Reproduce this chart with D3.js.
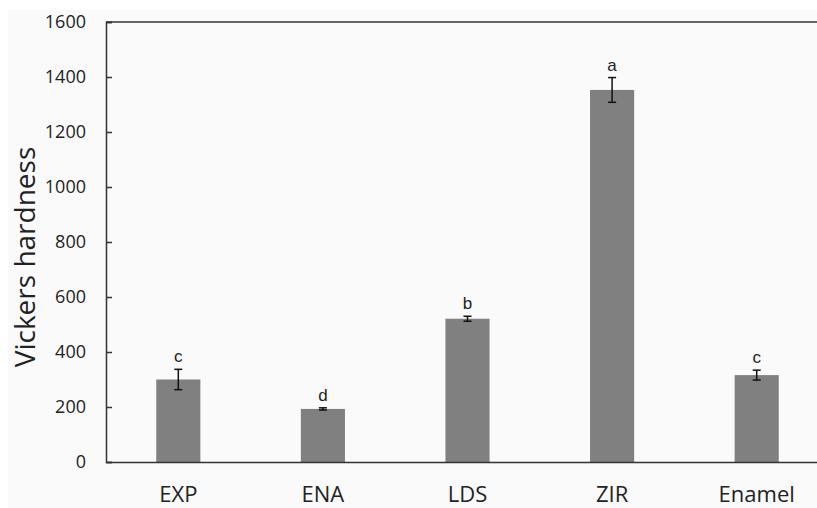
<!DOCTYPE html>
<html>
<head>
<meta charset="utf-8">
<script src="https://cdn.jsdelivr.net/npm/d3@7"></script>
<style>
  body { margin: 0; background: #fff; }
  svg { display: block; }
</style>
</head>
<body>
<svg id="chart" width="817" height="508"></svg>
<script>
  // data
  var groups = ['EXP', 'ENA', 'LDS', 'ZIR', 'Enamel'];
  var hardness = [300, 193, 521, 1353, 316];
  var errs = [37, 4, 9, 45, 18];
  var letters = ['c', 'd', 'b', 'a', 'c'];
  var yTicks = [0, 200, 400, 600, 800, 1000, 1200, 1400, 1600];

  (function() {
    var svg = d3.select('#chart');
    var left = 106, plotTop = 22, bottom = 462, right = 829;

    svg.append('rect').attr('x', 8).attr('y', 10).attr('width', 809).attr('height', 498).attr('fill', '#fafafa');

    var x = d3.scaleBand().domain(groups).range([left, right]).paddingInner(0.695).paddingOuter(0.3475);
    var y = d3.scaleLinear().domain([0, 1600]).range([bottom, plotTop]);
    var cx = function(d) { return x(d) + x.bandwidth() / 2; };

    // top frame line
    svg.append('line').attr('x1', left).attr('x2', 817).attr('y1', plotTop).attr('y2', plotTop)
      .attr('stroke', '#333').attr('stroke-width', 1.5);

    svg.selectAll('.bar').data(groups).enter().append('rect')
      .attr('class', 'bar')
      .attr('x', function(d) { return x(d); })
      .attr('width', x.bandwidth())
      .attr('y', function(d, i) { return y(hardness[i]); })
      .attr('height', function(d, i) { return bottom - y(hardness[i]); })
      .attr('fill', '#808080');

    var eb = svg.selectAll('.err').data(groups).enter().append('g').attr('class', 'err')
      .attr('stroke', '#111').attr('stroke-width', 1.5);
    eb.append('line')
      .attr('x1', cx).attr('x2', cx)
      .attr('y1', function(d, i) { return y(hardness[i] + errs[i]); })
      .attr('y2', function(d, i) { return y(hardness[i] - errs[i]); });
    [1, -1].forEach(function(s) {
      eb.append('line')
        .attr('x1', function(d) { return cx(d) - 4; })
        .attr('x2', function(d) { return cx(d) + 4; })
        .attr('y1', function(d, i) { return y(hardness[i] + s * errs[i]); })
        .attr('y2', function(d, i) { return y(hardness[i] + s * errs[i]); });
    });

    svg.selectAll('.lab').data(groups).enter().append('text')
      .attr('x', cx)
      .attr('y', function(d, i) { return y(hardness[i] + errs[i]) - 7; })
      .attr('text-anchor', 'middle')
      .attr('font-family', 'Liberation Sans, Arial, sans-serif')
      .attr('font-size', 17)
      .attr('fill', '#222')
      .text(function(d, i) { return letters[i]; });

    var yAxis = svg.append('g').attr('transform', 'translate(' + left + ',0)')
      .call(d3.axisLeft(y).tickValues(yTicks).tickSize(-6).tickPadding(20).tickFormat(d3.format('d')));
    yAxis.select('.domain').attr('stroke', '#333').attr('stroke-width', 1.5);
    yAxis.selectAll('.tick line').attr('stroke', '#333').attr('stroke-width', 1.5);
    yAxis.selectAll('text').attr('font-family', 'Open Sans, sans-serif').attr('font-size', 18).attr('fill', '#222');

    var xAxis = svg.append('g').attr('transform', 'translate(0,' + bottom + ')')
      .call(d3.axisBottom(x).tickSize(0).tickPadding(24));
    xAxis.select('.domain').attr('stroke', '#333').attr('stroke-width', 1.5);
    xAxis.selectAll('text').attr('font-family', 'Open Sans, sans-serif').attr('font-size', 22).attr('fill', '#222');

    svg.append('text')
      .attr('transform', 'translate(35,257) rotate(-90)')
      .attr('text-anchor', 'middle')
      .attr('font-family', 'Open Sans, sans-serif')
      .attr('font-size', 28)
      .attr('fill', '#222')
      .text('Vickers hardness');
  })();
</script>
</body>
</html>
